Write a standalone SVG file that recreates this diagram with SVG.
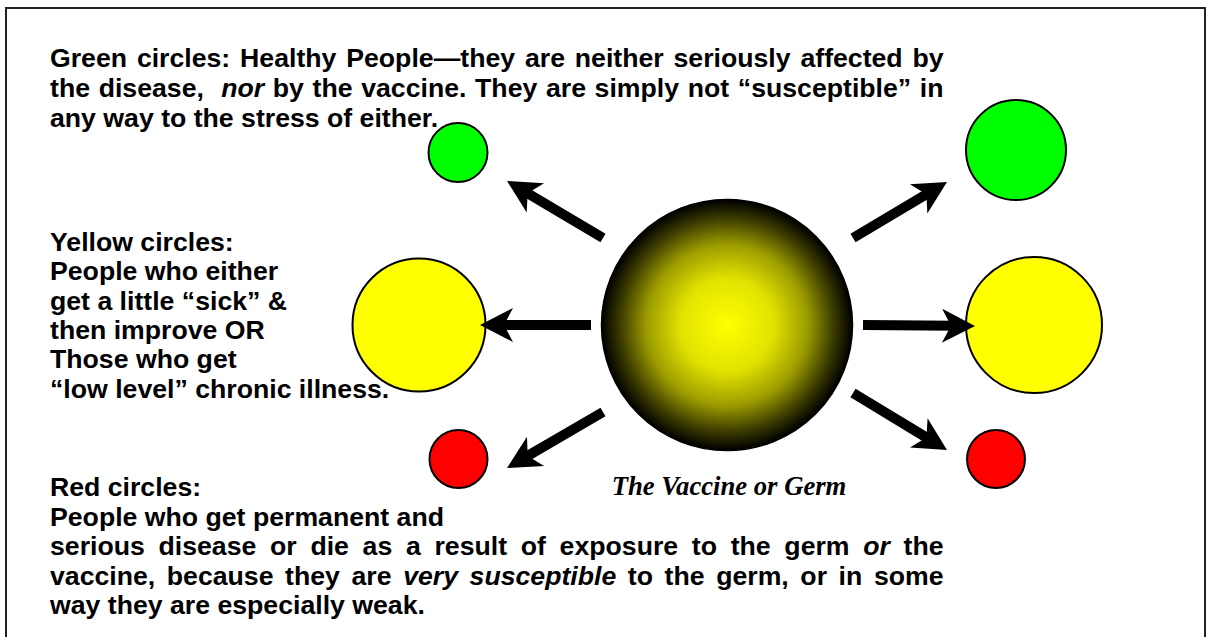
<svg xmlns="http://www.w3.org/2000/svg" width="1212" height="637" viewBox="0 0 1212 637">
<style>
.t{font-family:"Liberation Sans",Arial,sans-serif;font-weight:bold;font-size:26.67px;fill:#000}
.i{font-style:italic}
.cap{font-family:"Liberation Serif","Times New Roman",serif;font-weight:bold;font-style:italic;font-size:26.67px;fill:#000}
.c{stroke:#000;stroke-width:2}
.arr{stroke:#000;stroke-width:10;fill:none;marker-end:url(#head)}
</style>
<defs>
<radialGradient id="sph" cx="50%" cy="50%" r="50%">
<stop offset="0" stop-color="#ffff00"/>
<stop offset="0.37" stop-color="#e2e200"/>
<stop offset="0.64" stop-color="#9c9c00"/>
<stop offset="0.85" stop-color="#3c3c00"/>
<stop offset="1" stop-color="#000000"/>
</radialGradient>
<marker id="head" markerUnits="userSpaceOnUse" orient="auto" markerWidth="40" markerHeight="40" refX="0" refY="0" style="overflow:visible">
<path d="M20,0 L-13,-17 L-4,0 L-13,17 Z" fill="#000"/>
</marker>
</defs>
<rect x="6" y="8" width="1199" height="640" fill="#fff" stroke="#222" stroke-width="2"/>
<g id="text-green">
<text class="t" x="50" y="67" word-spacing="2.44">Green circles: Healthy People—they are neither seriously affected by</text>
<text class="t" x="50" y="97" word-spacing="1.25" xml:space="preserve">the disease,  <tspan class="i">nor</tspan> by the vaccine. They are simply not “susceptible” in</text>
<text class="t" x="50" y="127">any way to the stress of either.</text>
</g>
<g id="text-yellow">
<text class="t" x="50" y="251">Yellow circles:</text>
<text class="t" x="50" y="280.3">People who either</text>
<text class="t" x="50" y="309.6">get a little “sick” &amp;</text>
<text class="t" x="50" y="338.9">then improve OR</text>
<text class="t" x="50" y="368.2">Those who get</text>
<text class="t" x="50" y="397.5">“low level” chronic illness.</text>
</g>
<g id="text-red">
<text class="t" x="50" y="496">Red circles:</text>
<text class="t" x="50" y="525.5">People who get permanent and</text>
<text class="t" x="50" y="555" word-spacing="6.29">serious disease or die as a result of exposure to the germ <tspan class="i">or</tspan> the</text>
<text class="t" x="50" y="584.5" word-spacing="4.19">vaccine, because they are <tspan class="i">very susceptible</tspan> to the germ, or in some</text>
<text class="t" x="50" y="614">way they are especially weak.</text>
</g>
<g id="green-left"><circle class="c" cx="458" cy="152.5" r="29.5" fill="#00ff00"/></g>
<g id="green-right"><circle class="c" cx="1016" cy="150" r="50" fill="#00ff00"/></g>
<g id="yellow-left"><circle class="c" cx="419" cy="325" r="66.5" fill="#ffff00"/></g>
<g id="yellow-right"><circle class="c" cx="1034" cy="325" r="68" fill="#ffff00"/></g>
<g id="red-left"><circle class="c" cx="458.5" cy="459" r="29" fill="#ff0000"/></g>
<g id="red-right"><circle class="c" cx="996" cy="459" r="29" fill="#ff0000"/></g>
<g id="sphere">
<circle cx="727" cy="325" r="125.5" fill="url(#sph)" stroke="#000" stroke-width="1.5"/>
<text class="cap" x="729" y="495" text-anchor="middle">The Vaccine or Germ</text>
</g>
<g id="connectors">
<line class="arr" x1="603" y1="238" x2="524.2" y2="191.2"/>
<line class="arr" x1="591" y1="325" x2="500" y2="325"/>
<line class="arr" x1="603" y1="412" x2="524.3" y2="457.9"/>
<line class="arr" x1="853" y1="238" x2="929.8" y2="192.2"/>
<line class="arr" x1="863" y1="325" x2="955" y2="325.8"/>
<line class="arr" x1="853" y1="393" x2="929.9" y2="439.6"/>
</g>
</svg>
